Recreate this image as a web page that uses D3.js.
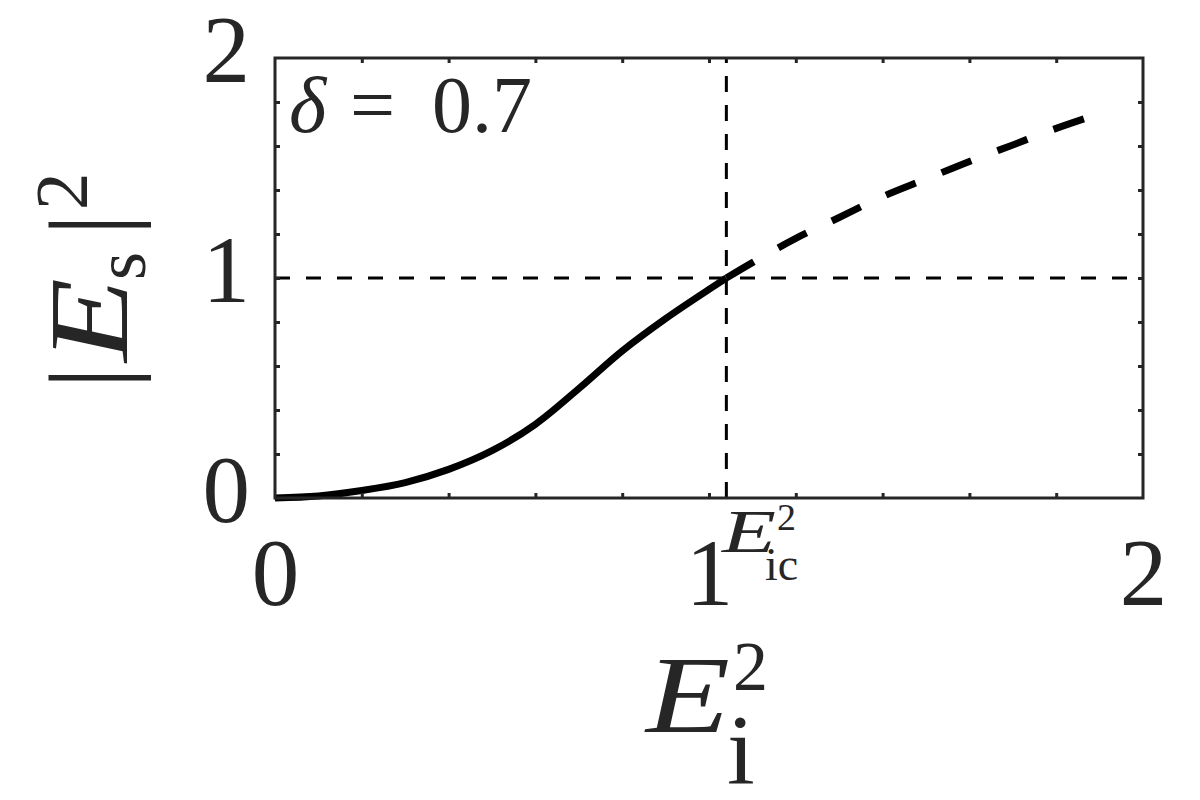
<!DOCTYPE html>
<html>
<head>
<meta charset="utf-8">
<script src="https://cdn.jsdelivr.net/npm/d3@7"></script>
<style>
  body { margin: 0; background: #fff; }
  text { font-family: "Liberation Serif", "DejaVu Serif", serif; fill: #262626; }
</style>
</head>
<body>
<div id="chart"></div>
<script>
const width = 1200;
const height = 800;

// lower (stable) branch, drawn solid
const solidX = [0, 0.1, 0.2, 0.3, 0.4, 0.5, 0.6, 0.7, 0.8, 0.9, 1.0, 1.04];
const solidY = [0, 0.009, 0.034, 0.07, 0.13, 0.215, 0.335, 0.497, 0.668, 0.815, 0.948, 1.0];

// upper branch, drawn dashed
const dashX = [1.04, 1.1, 1.2, 1.3, 1.4, 1.5, 1.6, 1.7, 1.8, 1.92];
const dashY = [1.0, 1.07, 1.18, 1.275, 1.37, 1.45, 1.53, 1.605, 1.68, 1.76];

// reference lines
const criticalX = 1.04;   // E_ic^2
const levelY = 1;

const majorTicks = [0, 1, 2];
const minorTicks = [0.2, 0.4, 0.6, 0.8, 1, 1.2, 1.4, 1.6, 1.8];

const margin = {top: 58, right: 57, bottom: 302, left: 275};

const svg = d3.select("#chart")
    .append("svg")
    .attr("width", width)
    .attr("height", height);

const x = d3.scaleLinear()
    .domain([0, 2])
    .range([margin.left, width - margin.right]);

const y = d3.scaleLinear()
    .domain([0, 2])
    .range([height - margin.bottom, margin.top]);

// dashed reference lines
svg.append("line")
    .attr("x1", x(criticalX)).attr("x2", x(criticalX))
    .attr("y1", y(0)).attr("y2", y(2))
    .attr("stroke", "#000")
    .attr("stroke-width", 3)
    .attr("stroke-dasharray", "16,13");

svg.append("line")
    .attr("x1", x(0)).attr("x2", x(2))
    .attr("y1", y(levelY)).attr("y2", y(levelY))
    .attr("stroke", "#000")
    .attr("stroke-width", 3)
    .attr("stroke-dasharray", "15,16");

const line = d3.line()
    .x(d => x(d[0]))
    .y(d => y(d[1]))
    .curve(d3.curveCatmullRom.alpha(0.5));

svg.append("path")
    .datum(d3.zip(solidX, solidY))
    .attr("d", line)
    .attr("fill", "none")
    .attr("stroke", "#000")
    .attr("stroke-width", 7);

svg.append("path")
    .datum(d3.zip(dashX, dashY))
    .attr("d", line)
    .attr("fill", "none")
    .attr("stroke", "#000")
    .attr("stroke-width", 7)
    .attr("stroke-dasharray", "32,28");

// inward minor ticks on all four sides
function tickStyle(g) {
    g.select(".domain").remove();
    g.selectAll(".tick line").attr("stroke", "#262626").attr("stroke-width", 3);
}

svg.append("g")
    .attr("transform", `translate(0,${y(0)})`)
    .call(d3.axisBottom(x).tickValues(minorTicks).tickSize(-5).tickFormat(""))
    .call(tickStyle);
svg.append("g")
    .attr("transform", `translate(0,${y(2)})`)
    .call(d3.axisTop(x).tickValues(minorTicks).tickSize(-5).tickFormat(""))
    .call(tickStyle);
svg.append("g")
    .attr("transform", `translate(${x(0)},0)`)
    .call(d3.axisLeft(y).tickValues(minorTicks).tickSize(-5).tickFormat(""))
    .call(tickStyle);
svg.append("g")
    .attr("transform", `translate(${x(2)},0)`)
    .call(d3.axisRight(y).tickValues(minorTicks).tickSize(-5).tickFormat(""))
    .call(tickStyle);

// frame
svg.append("rect")
    .attr("x", x(0))
    .attr("y", y(2))
    .attr("width", x(2) - x(0))
    .attr("height", y(0) - y(2))
    .attr("fill", "none")
    .attr("stroke", "#262626")
    .attr("stroke-width", 3);

// major tick labels
svg.append("g")
    .attr("transform", `translate(0,${y(0)})`)
    .call(d3.axisBottom(x).tickValues(majorTicks).tickSize(0).tickFormat(d3.format("d")))
    .call(g => g.select(".domain").remove())
    .call(g => g.selectAll("text")
        .attr("y", 107)
        .attr("dy", null)
        .attr("font-size", 95)
        .attr("fill", "#262626"));

svg.append("g")
    .attr("transform", `translate(${x(0)},0)`)
    .call(d3.axisLeft(y).tickValues(majorTicks).tickSize(0).tickFormat(d3.format("d")))
    .call(g => g.select(".domain").remove())
    .call(g => g.selectAll("text")
        .attr("x", -25)
        .attr("dy", 23)
        .attr("font-size", 95)
        .attr("fill", "#262626"));

// y axis label |E_s|^2, pieces placed along the rotated baseline
const yLabel = svg.append("g")
    .attr("transform", "translate(127,0) rotate(-90)");
yLabel.append("text").attr("x", -389).attr("font-size", 112).text("|");
yLabel.append("text").attr("x", -362).attr("font-size", 112)
    .attr("font-style", "italic").attr("textLength", 84)
    .attr("lengthAdjust", "spacingAndGlyphs").text("E");
yLabel.append("text").attr("x", -280).attr("y", 18).attr("font-size", 72).text("s");
yLabel.append("text").attr("x", -236).attr("font-size", 112).text("|");
yLabel.append("text").attr("x", -210).attr("y", -40).attr("font-size", 75).text("2");

// x axis label E_i^2
svg.append("text")
    .attr("x", 646).attr("y", 732)
    .attr("font-size", 110)
    .attr("font-style", "italic")
    .attr("textLength", 84)
    .attr("lengthAdjust", "spacingAndGlyphs")
    .text("E");
svg.append("text")
    .attr("x", 733).attr("y", 690)
    .attr("font-size", 70)
    .text("2");
svg.append("text")
    .attr("x", 727).attr("y", 783)
    .attr("font-size", 100)
    .text("i");

// E_ic^2 marker next to the critical line
svg.append("text")
    .attr("x", 722).attr("y", 552)
    .attr("font-size", 62)
    .attr("font-style", "italic")
    .attr("textLength", 54)
    .attr("lengthAdjust", "spacingAndGlyphs")
    .text("E");
svg.append("text")
    .attr("x", 777).attr("y", 530)
    .attr("font-size", 38)
    .text("2");
svg.append("text")
    .attr("x", 765).attr("y", 580)
    .attr("font-size", 46)
    .text("ic");

// parameter annotation
const note = svg.append("text")
    .attr("y", 132)
    .attr("font-size", 80);
note.append("tspan").attr("x", 289).attr("font-style", "italic").text("δ");
note.append("tspan").attr("x", 350).text("=");
note.append("tspan").attr("x", 432).text("0.7");
</script>
</body>
</html>
